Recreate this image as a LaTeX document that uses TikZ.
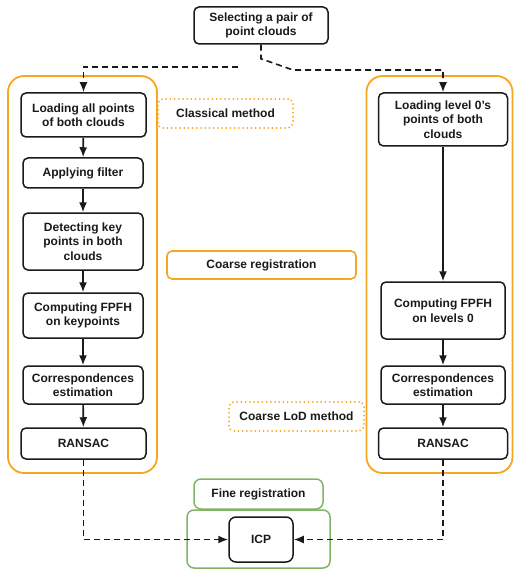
\documentclass[tikz,border=0pt]{standalone}
\usepackage{fontspec}
\setmainfont{Liberation Sans}
\usetikzlibrary{arrows.meta}
\definecolor{orng}{HTML}{F5A623}
\definecolor{grn}{HTML}{82B366}
\definecolor{ink}{HTML}{1A1A1A}
\begin{document}
\begin{tikzpicture}[x=1pt,y=-1pt,
  every node/.style={font=\fontsize{12}{14.5}\selectfont\bfseries, text=ink, inner sep=0pt, align=center},
  blk/.style={draw=ink, line width=1.5pt, rounded corners=5pt, fill=white},
  cont/.style={draw=orng, line width=1.8pt, rounded corners=16pt},
  olabel/.style={draw=orng, line width=1.6pt, rounded corners=5pt, fill=white},
  dlabel/.style={draw=orng, line width=2pt, rounded corners=5pt, dash pattern=on 0pt off 4.2pt, line cap=round},
  gbox/.style={draw=grn, line width=1.5pt, rounded corners=7pt, fill=white},
  arr/.style={draw=ink, line width=1.6pt, -{Latex[length=10pt,width=8pt]}},
  darr/.style={arr, dash pattern=on 6pt off 4pt}
]
\useasboundingbox (0,0) rectangle (513,569);
% containers
\node[cont, minimum width=149pt, minimum height=397pt] (lc) at (82.5,274.5) {};
\node[cont, minimum width=146pt, minimum height=397pt] (rc) at (439.5,274.5) {};
% top
\node[blk, minimum width=134pt, minimum height=37pt] (top) at (261,25.5) {Selecting a pair of\\point clouds};
% left column
\node[blk, minimum width=125pt, minimum height=44pt] (L1) at (83.5,115) {Loading all points\\of both clouds};
\node[blk, minimum width=120pt, minimum height=30pt] (L2) at (83,173) {Applying filter};
\node[blk, minimum width=120pt, minimum height=57pt] (L3) at (83,241.5) {Detecting key\\points in both\\clouds};
\node[blk, minimum width=120pt, minimum height=45pt] (L4) at (83,315.5) {Computing FPFH\\on keypoints};
\node[blk, minimum width=120pt, minimum height=38pt] (L5) at (83,385) {Correspondences\\estimation};
\node[blk, minimum width=125pt, minimum height=31pt] (L6) at (83.5,443.5) {RANSAC};
% right column
\node[blk, minimum width=129pt, minimum height=53pt] (R1) at (443,119.5) {Loading level 0's\\points of both\\clouds};
\node[blk, minimum width=124pt, minimum height=57pt] (R4) at (443,310.5) {Computing FPFH\\on levels 0};
\node[blk, minimum width=124pt, minimum height=38pt] (R5) at (443,385) {Correspondences\\estimation};
\node[blk, minimum width=129pt, minimum height=31pt] (R6) at (443,443.5) {RANSAC};
% labels
\node[dlabel, minimum width=135pt, minimum height=29pt] (cm) at (225.5,113.5) {Classical method};
\node[olabel, minimum width=189pt, minimum height=28pt] (cr) at (261.5,265) {Coarse registration};
\node[dlabel, minimum width=135pt, minimum height=29pt] (clod) at (296.5,416.5) {Coarse LoD method};
% fine registration
\node[gbox, minimum width=129pt, minimum height=30pt] (fr) at (258.5,494) {Fine registration};
\node[gbox, minimum width=143pt, minimum height=58pt] (fc) at (258.5,539) {};
\node[blk, rounded corners=7pt, minimum width=64pt, minimum height=45pt] (icp) at (261,539.5) {ICP};
% connectors
\coordinate (lstart) at (238,67);
\draw[darr] (lstart) -| (L1.north);
\draw[darr] (top.south) -- ++(0,14) -- (293,70) -| (R1.north);
\draw[arr] (L1) -- (L2);
\draw[arr] (L2) -- (L3);
\draw[arr] (L3) -- (L4);
\draw[arr] (L4) -- (L5);
\draw[arr] (L5) -- (L6);
\draw[arr] (R1) -- (R4);
\draw[arr] (R4) -- (R5);
\draw[arr] (R5) -- (R6);
\draw[darr] (L6.south) |- (icp.west);
\draw[darr] (R6.south) |- (icp.east);
\end{tikzpicture}
\end{document}
